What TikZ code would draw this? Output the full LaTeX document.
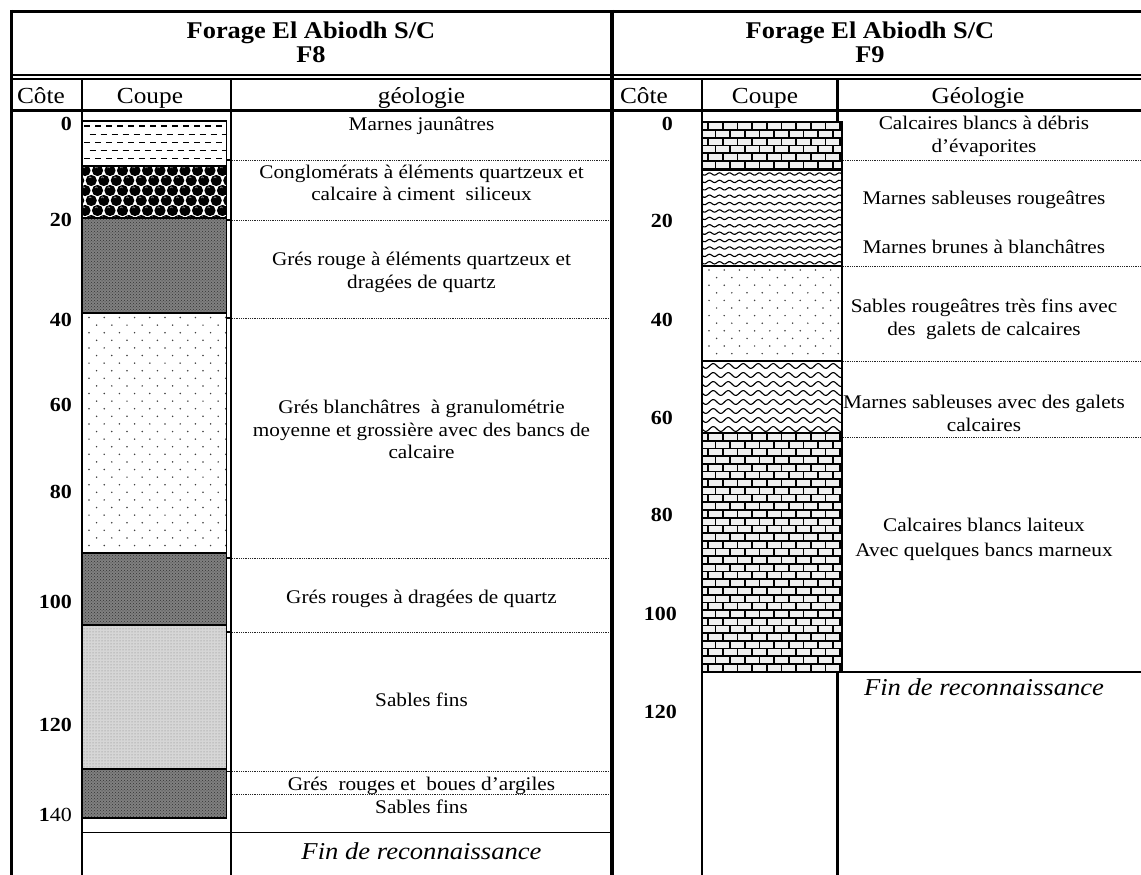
\documentclass[tikz,border=0pt]{standalone}
\usepackage{fontspec}
\setmainfont{Liberation Serif}[FakeStretch=1.1]
\usetikzlibrary{patterns}
\begin{document}
\begin{tikzpicture}[x=1pt,y=-1pt,
  tabrule/.style={line width=#1},
  layerline/.style={line width=1.8pt},
  sepline/.style={line width=0.9pt, dash pattern=on 0.9pt off 0.9pt, black!85},
  brickline/.style={line width=1.7pt},
  waveline/.style={line width=1.1pt},
  geotext/.style={font=\fontsize{19.3}{23}\selectfont, anchor=base, inner sep=0pt},
  colhead/.style={font=\fontsize{23}{28}\selectfont, anchor=base, inner sep=0pt},
  headtitle/.style={font=\bfseries\fontsize{24}{28}\selectfont, anchor=base, inner sep=0pt},
  depthlabel/.style={font=\bfseries\fontsize{20}{24}\selectfont, anchor=east, inner sep=0pt},
  endnote/.style={font=\itshape\fontsize{24.2}{28}\selectfont, anchor=base, inner sep=0pt}]
\useasboundingbox (0,0) rectangle (1141,875);
\fill[white] (0,0) rectangle (1141,875);

% ---------------- table rules ----------------
\draw[tabrule=3pt] (10,11.5) -- (1141,11.5);
\draw[tabrule=2.6pt] (10,75) -- (1141,75);
\draw[tabrule=1.6pt] (10,79) -- (1141,79);
\draw[tabrule=2.3pt] (10,110.5) -- (1141,110.5);
\draw[tabrule=3.5pt] (11.5,10) -- (11.5,875);
\draw[tabrule=3.2pt] (612,10) -- (612,875);
\draw[tabrule=1.8pt] (82,79) -- (82,875);
\draw[tabrule=2.2pt] (231,79) -- (231,875);
\draw[tabrule=1.8pt] (702,79) -- (702,875);
\draw[tabrule=3pt] (837.5,79) -- (837.5,875);

% ---------------- headings ----------------
\node[headtitle] (t8a) at (311,38.3) {Forage El Abiodh S/C};
\node[headtitle] (t8b) at (311,62.5) {F8};
\node[headtitle] (t9a) at (870,38.3) {Forage El Abiodh S/C};
\node[headtitle] (t9b) at (870,62.5) {F9};

\node[colhead] (h8a) at (41,103) {Côte};
\node[colhead] (h8b) at (150,103) {Coupe};
\node[colhead] (h8c) at (421.5,103) {géologie};
\node[colhead] (h9a) at (644,103) {Côte};
\node[colhead] (h9b) at (765,103) {Coupe};
\node[colhead] (h9c) at (978,103) {Géologie};

% ---------------- F8 log ----------------
% marls: staggered dashes
\begin{scope}
\clip (82,121) rectangle (226.5,166);
\foreach \r in {0,...,5}{
  \pgfmathsetmacro\yy{126+\r*8.2}
  \pgfmathsetmacro\off{mod(\r,2)*5.5}
  \foreach \c in {0,...,13}{
    \pgfmathsetmacro\xx{84+\off+\c*11}
    \draw[line width=1.3pt] (\xx,\yy) -- ++(6,0);
  }
}
\end{scope}
% conglomerate: packed pebbles
\begin{scope}
\clip (82,166) rectangle (226.5,218);
\fill[white] (82,166) rectangle (226.5,218);
\foreach \r in {0,...,5}{
  \pgfmathsetmacro\yy{170.5+\r*10}
  \pgfmathsetmacro\off{mod(\r,2)*6.25}
  \foreach \c in {-1,...,12}{
    \pgfmathsetmacro\xx{85+\off+\c*12.5}
    \fill[black] (\xx,\yy) circle (5.6pt);
    \fill[black!40] (\xx-1.2,\yy-2.6) circle (1.5pt);
    \fill[black] (\xx-1.2,\yy-1.6) circle (1.5pt);
  }
}
\end{scope}
% red sandstones: dark grey
\fill[black!50] (82,218) rectangle (226.5,313);
\fill[pattern=crosshatch dots, pattern color=black!80] (82,218) rectangle (226.5,313);
% whitish sandstones: sparse dots
\begin{scope}
\clip (82,313) rectangle (226.5,553);
\foreach \r in {0,...,31}{
  \pgfmathsetmacro\yy{317.5+\r*7.6}
  \pgfmathsetmacro\off{mod(\r,2)*7.6}
  \foreach \c in {0,...,9}{
    \pgfmathsetmacro\xx{89+\off+\c*15.2}
    \fill[black!75] (\xx,\yy) circle (0.85pt);
  }
}
\end{scope}
\fill[black!50] (82,553) rectangle (226.5,625);
\fill[pattern=crosshatch dots, pattern color=black!80] (82,553) rectangle (226.5,625);
% fine sands: light grey
\fill[black!16] (82,625) rectangle (226.5,769);
\fill[pattern=dots, pattern color=black!50] (82,625) rectangle (226.5,769);
\fill[black!50] (82,769) rectangle (226.5,818);
\fill[pattern=crosshatch dots, pattern color=black!80] (82,769) rectangle (226.5,818);
% layer limits and outline
\foreach \yy in {166,218,313,553,625,769}{
  \draw[layerline] (82,\yy) -- (226.5,\yy);
}
\draw[layerline] (82,121) rectangle (226.5,818);

% ---------------- F9 log ----------------
\fill[white] (702,121.5) rectangle (842,672.5);
% limestone: bricks
\begin{scope}
\clip (702,121.5) rectangle (842,170);
\fill[black!6] (702,121.5) rectangle (842,170);
\foreach \r in {0,...,6}{
  \pgfmathsetmacro\yy{122.5+\r*7.7}
  \pgfmathsetmacro\off{mod(\r,2)*7.35}
  \draw[brickline] (702,\yy) -- (842,\yy);
  \foreach \c in {-1,...,10}{
    \pgfmathsetmacro\xx{708+\off+\c*14.7}
    \draw[brickline] (\xx,\yy) -- (\xx,\yy+7.7);
  }
}
\end{scope}
% sandy marls: small waves
\begin{scope}
\clip (702,170) rectangle (842,266);
\foreach \r in {0,...,12}{
  \pgfmathsetmacro\yy{174+\r*7.4}
  \draw[waveline] plot[domain=0:140, samples=90] ({702+\x},{\yy+1.2*sin(36*\x)});
}
\end{scope}
% sands: sparse dots
\begin{scope}
\clip (702,266) rectangle (842,361);
\foreach \r in {0,...,12}{
  \pgfmathsetmacro\yy{270+\r*7.6}
  \pgfmathsetmacro\off{mod(\r,2)*7.6}
  \foreach \c in {0,...,9}{
    \pgfmathsetmacro\xx{709+\off+\c*15.2}
    \fill[black!75] (\xx,\yy) circle (0.85pt);
  }
}
\end{scope}
% sandy marls with pebbles: large waves
\begin{scope}
\clip (702,361) rectangle (842,433);
\foreach \r in {0,...,8}{
  \pgfmathsetmacro\yy{366+\r*9}
  \draw[waveline] plot[domain=0:140, samples=110] ({702+\x},{\yy+2.4*sin(24*\x)});
}
\end{scope}
% milky limestone: bricks
\begin{scope}
\clip (702,433) rectangle (842,672.5);
\fill[black!6] (702,433) rectangle (842,672.5);
\foreach \r in {0,...,31}{
  \pgfmathsetmacro\yy{433+\r*7.7}
  \pgfmathsetmacro\off{mod(\r,2)*7.35}
  \draw[brickline] (702,\yy) -- (842,\yy);
  \foreach \c in {-1,...,10}{
    \pgfmathsetmacro\xx{708+\off+\c*14.7}
    \draw[brickline] (\xx,\yy) -- (\xx,\yy+7.7);
  }
}
\end{scope}
\foreach \yy in {170,266,361,433}{
  \draw[layerline] (702,\yy) -- (842,\yy);
}
\draw[layerline] (702,121.5) rectangle (842,672.5);

% ---------------- depth scales ----------------
\node[depthlabel] (d8a) at (72,124) {0};
\node[depthlabel] (d8b) at (72,220) {20};
\node[depthlabel] (d8c) at (72,320) {40};
\node[depthlabel] (d8d) at (72,405) {60};
\node[depthlabel] (d8e) at (72,492) {80};
\node[depthlabel] (d8f) at (72,602) {100};
\node[depthlabel] (d8g) at (72,725) {120};
\node[depthlabel] (d8h) at (72,815) {1\mdseries 40};
\node[depthlabel] (d9a) at (673,124) {0};
\node[depthlabel] (d9b) at (673,221) {20};
\node[depthlabel] (d9c) at (673,320) {40};
\node[depthlabel] (d9d) at (673,418) {60};
\node[depthlabel] (d9e) at (673,515) {80};
\node[depthlabel] (d9f) at (677,614) {100};
\node[depthlabel] (d9g) at (677,712) {120};

% ---------------- F8 description ----------------
\foreach \yy in {160,220,318,558,632,771.5}{
  \draw[line width=1.2pt] (226.5,\yy) -- (231,\yy);
}
\foreach \yy in {160,220,318,558,632,771.5,794.5}{
  \draw[sepline] (232,\yy) -- (610,\yy);
}
\draw[tabrule=1.8pt] (82,832.5) -- (612,832.5);

\node[geotext] (g8a) at (421.5,130.7) {Marnes jaunâtres};
\node[geotext] (g8b) at (421.5,178.3) {Conglomérats à éléments quartzeux et};
\node[geotext] (g8c) at (421.5,200.7) {calcaire à ciment~ siliceux};
\node[geotext] (g8d) at (421.5,265.5) {Grés rouge à éléments quartzeux et};
\node[geotext] (g8e) at (421.5,288.5) {dragées de quartz};
\node[geotext] (g8f) at (421.5,413.3) {Grés blanchâtres~ à granulométrie};
\node[geotext] (g8g) at (421.5,436.7) {moyenne et grossière avec des bancs de};
\node[geotext] (g8h) at (421.5,458.3) {calcaire};
\node[geotext] (g8i) at (421.5,603.5) {Grés rouges à dragées de quartz};
\node[geotext] (g8j) at (421.5,706.5) {Sables fins};
\node[geotext] (g8k) at (421.5,790.7) {Grés~ rouges et~ boues d’argiles};
\node[geotext] (g8l) at (421.5,813.3) {Sables fins};
\node[endnote] (f8) at (421.5,859) {Fin de reconnaissance};

% ---------------- F9 description ----------------
\foreach \yy in {160,266.7,361.7,437.7}{
  \draw[sepline] (843,\yy) -- (1141,\yy);
}
\draw[tabrule=2pt] (842,671.5) -- (1141,671.5);

\node[geotext] (g9a) at (984,129.3) {Calcaires blancs à débris};
\node[geotext] (g9b) at (984,152.7) {d’évaporites};
\node[geotext] (g9c) at (984,204) {Marnes sableuses rougeâtres};
\node[geotext] (g9d) at (984,253.3) {Marnes brunes à blanchâtres};
\node[geotext] (g9e) at (984,312.3) {Sables rougeâtres très fins avec};
\node[geotext] (g9f) at (984,335) {des~ galets de calcaires};
\node[geotext] (g9g) at (984,408.3) {Marnes sableuses avec des galets};
\node[geotext] (g9h) at (984,431.7) {calcaires};
\node[geotext] (g9i) at (984,531.7) {Calcaires blancs laiteux};
\node[geotext] (g9j) at (984,556) {Avec quelques bancs marneux};
\node[endnote] (f9) at (984,695) {Fin de reconnaissance};
\end{tikzpicture}
\end{document}
